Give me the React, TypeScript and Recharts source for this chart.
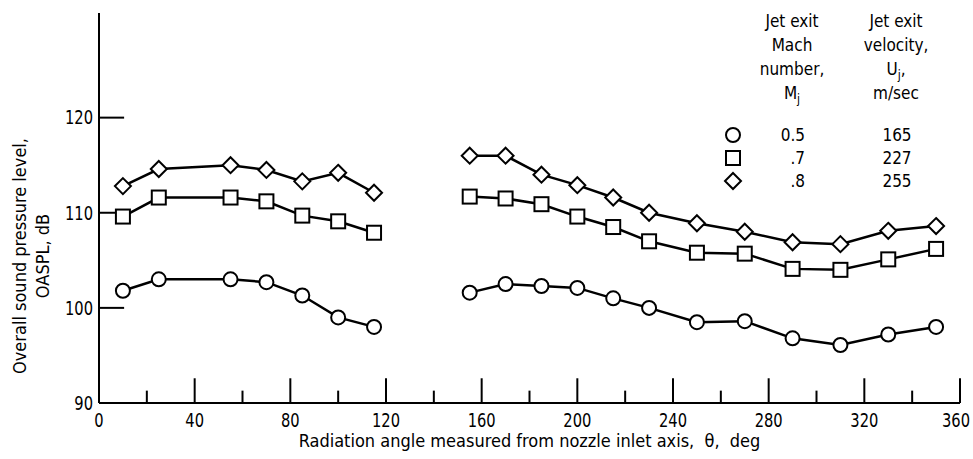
import { Line, LineChart, ReferenceLine, XAxis, YAxis } from 'recharts'

const FONT = "'Liberation Sans Narrow', 'DejaVu Sans Condensed', 'Liberation Sans', sans-serif"

// radiation angles, deg (two arcs of microphones)
const frontAngles = [10, 25, 55, 70, 85, 100, 115]
const rearAngles = [155, 170, 185, 200, 215, 230, 250, 270, 290, 310, 330, 350]

// OASPL, dB
const mach05Front = [101.8, 103.0, 103.0, 102.7, 101.3, 99.0, 98.0]
const mach05Rear = [101.6, 102.5, 102.3, 102.1, 101.0, 100.0, 98.5, 98.6, 96.8, 96.1, 97.2, 98.0]
const mach07Front = [109.6, 111.6, 111.6, 111.2, 109.7, 109.1, 107.9]
const mach07Rear = [111.7, 111.5, 110.9, 109.6, 108.5, 107.0, 105.8, 105.7, 104.1, 104.0, 105.1, 106.2]
const mach08Front = [112.8, 114.6, 115.0, 114.5, 113.3, 114.2, 112.1]
const mach08Rear = [116.0, 116.0, 114.0, 112.9, 111.6, 110.0, 108.9, 108.0, 106.9, 106.7, 108.1, 108.6]

const xTicks = [20, 40, 60, 80, 100, 120, 140, 160, 180, 200, 220, 240, 260, 280, 300, 320, 340, 360]
const xLabels = [0, 40, 80, 120, 160, 200, 240, 280, 320, 360]
const yTicks = [90, 100, 110, 120]
const yMarks = [100, 110, 120]

const machNumbers = ['0.5', '.7', '.8']
const velocities = ['165', '227', '255']
const shapes = ['circle', 'square', 'diamond'] as const

type Shape = (typeof shapes)[number]

const front = frontAngles.map((angle, i) => ({ angle, m05: mach05Front[i], m07: mach07Front[i], m08: mach08Front[i] }))
const rear = rearAngles.map((angle, i) => ({ angle, m05: mach05Rear[i], m07: mach07Rear[i], m08: mach08Rear[i] }))

function Marker({ cx, cy, shape }: { cx: number; cy: number; shape: Shape }) {
  if (cx == null || cy == null) return null
  const common = { fill: '#fff', stroke: '#000', strokeWidth: 2 }
  if (shape === 'circle') return <circle cx={cx} cy={cy} r={7} {...common} />
  if (shape === 'square') return <rect x={cx - 7} y={cy - 7} width={14} height={14} {...common} />
  return <path d={`M${cx},${cy - 8} L${cx + 8},${cy} L${cx},${cy + 8} L${cx - 8},${cy} Z`} {...common} />
}

// narrow-looking tick labels like the original lettering
function XTick({ x, y, payload }: any) {
  const shift = payload.value === 360 ? -4 : 0
  return (
    <text
      transform={`translate(${x + shift},${y}) scale(0.86,1)`}
      textAnchor="middle"
      dy="0.71em"
      fill="#000"
      fontSize={19}
      fontFamily={FONT}
    >
      {payload.value}
    </text>
  )
}

function YTick({ x, y, payload }: any) {
  return (
    <text
      transform={`translate(${x},${y}) scale(0.86,1)`}
      textAnchor="end"
      dy="0.355em"
      fill="#000"
      fontSize={19}
      fontFamily={FONT}
    >
      {payload.value}
    </text>
  )
}

const seriesKeys: { key: 'm05' | 'm07' | 'm08'; shape: Shape }[] = [
  { key: 'm05', shape: 'circle' },
  { key: 'm07', shape: 'square' },
  { key: 'm08', shape: 'diamond' },
]

export default function App() {
  return (
    <div style={{ position: 'relative', width: 973, height: 459, background: '#fff', fontFamily: FONT }}>
      <style>{'body{margin:0}'}</style>
      <LineChart width={973} height={459} margin={{ top: 13, right: 13, bottom: 0, left: 0 }}>
        <XAxis
          dataKey="angle"
          type="number"
          domain={[0, 360]}
          ticks={xLabels}
          interval={0}
          height={56}
          tickLine={false}
          tickSize={0}
          tickMargin={10}
          axisLine={{ stroke: '#000', strokeWidth: 2 }}
          tick={<XTick />}
          label={{
            value: 'Radiation angle measured from nozzle inlet axis,\u00a0\u00a0θ,\u00a0\u00a0deg',
            position: 'insideBottom',
            offset: 12,
            fill: '#000',
            fontSize: 18,
            fontFamily: FONT,
          }}
        />
        <YAxis
          type="number"
          domain={[90, 131]}
          ticks={yTicks}
          interval={0}
          width={99}
          tickLine={false}
          tickSize={0}
          tickMargin={6}
          axisLine={{ stroke: '#000', strokeWidth: 2 }}
          tick={<YTick />}
        />
        {xTicks.map((t) => (
          <ReferenceLine
            key={`xt${t}`}
            segment={[
              { x: t, y: 90 },
              { x: t, y: t % 40 === 0 ? 92.6 : 91.3 },
            ]}
            stroke="#000"
            strokeWidth={2}
          />
        ))}
        {yMarks.map((t) => (
          <ReferenceLine
            key={`yt${t}`}
            segment={[
              { x: 0, y: t },
              { x: 10.5, y: t },
            ]}
            stroke="#000"
            strokeWidth={2}
          />
        ))}
        {[front, rear].flatMap((data, g) =>
          seriesKeys.map((s) => (
            <Line
              key={`${s.key}-${g}`}
              data={data}
              dataKey={s.key}
              type="linear"
              stroke="#000"
              strokeWidth={2.5}
              isAnimationActive={false}
              dot={(p: any) => <Marker key={`${s.key}-${g}-${p.index}`} cx={p.cx} cy={p.cy} shape={s.shape} />}
              activeDot={false}
            />
          )),
        )}
      </LineChart>
      <svg width={973} height={459} style={{ position: 'absolute', left: 0, top: 0, pointerEvents: 'none' }}>
        <g transform="translate(31,256) rotate(-90)" fontSize={18} fontFamily={FONT} fill="#000" textAnchor="middle">
          <text x={0} y={-5}>Overall sound pressure level,</text>
          <text x={0} y={18}>OASPL, dB</text>
        </g>
        <g fontSize={17} fontFamily={FONT} fill="#000" textAnchor="middle">
          <text x={792} y={27}>Jet exit</text>
          <text x={792} y={51}>Mach</text>
          <text x={792} y={75}>number,</text>
          <text x={792} y={99}>
            M<tspan fontSize={12} dy={4}>j</tspan>
          </text>
          <text x={896} y={27}>Jet exit</text>
          <text x={896} y={51}>velocity,</text>
          <text x={896} y={75}>
            U<tspan fontSize={12} dy={4}>j</tspan>
            <tspan dy={-4}>,</tspan>
          </text>
          <text x={896} y={99}>m/sec</text>
          {machNumbers.map((m, i) => (
            <g key={m}>
              <Marker cx={733} cy={135 + i * 23} shape={shapes[i]} />
              <text x={805} y={141 + i * 23} textAnchor="end">
                {m}
              </text>
              <text x={897} y={141 + i * 23}>{velocities[i]}</text>
            </g>
          ))}
        </g>
      </svg>
    </div>
  )
}
